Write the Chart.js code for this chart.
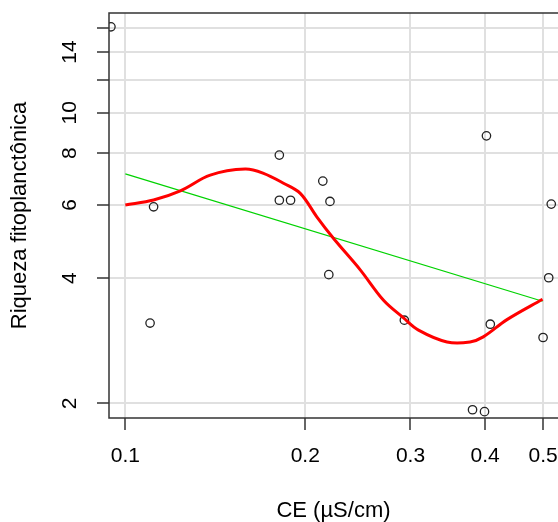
<!DOCTYPE html>
<html>
<head>
<meta charset="utf-8">
<script src="https://cdn.jsdelivr.net/npm/chart.js@4.4.0/dist/chart.umd.min.js"></script>
<style>
  html, body { margin: 0; padding: 0; background: #fff; overflow: hidden; }
  #wrap { width: 558px; height: 522px; }
</style>
</head>
<body>
<div id="wrap"><canvas id="grafico" width="558" height="522"></canvas></div>
<script>
// observed points (CE x riqueza)
var ce_obs = [0.0946, 0.1115, 0.110, 0.181, 0.181, 0.189, 0.214, 0.220, 0.219,
              0.293, 0.402, 0.408, 0.381, 0.399, 0.500, 0.511, 0.516];
var riqueza_obs = [16.1, 5.94, 3.12, 7.91, 6.16, 6.16, 6.85, 6.12, 4.08,
                   3.17, 8.80, 3.10, 1.93, 1.91, 2.88, 4.01, 6.03];

// smooth curve (red)
var curva_x = [0.100, 0.1115, 0.1236, 0.1387, 0.1587, 0.1703, 0.1839, 0.1962, 0.2091,
               0.2229, 0.2472, 0.2704, 0.2921, 0.3094, 0.3453, 0.3774, 0.3971, 0.4351, 0.4990];
var curva_y = [6.00, 6.17, 6.49, 7.08, 7.32, 7.15, 6.77, 6.40, 5.62,
               4.99, 4.19, 3.54, 3.21, 3.00, 2.81, 2.81, 2.89, 3.18, 3.56];

// linear fit (green)
var reta_x = [0.100, 0.499];
var reta_y = [7.13, 3.52];

var x_ticks = [0.1, 0.2, 0.3, 0.4, 0.5];
var x_tick_labels = ['0.1', '0.2', '0.3', '0.4', '0.5'];
var y_ticks = [2, 4, 6, 8, 10, 12, 14, 16];
var y_tick_labels = ['2', '4', '6', '8', '10', '', '14', ''];

function pares(xs, ys) {
  var out = [];
  for (var i = 0; i < xs.length; i++) {
    out.push({x: xs[i], y: ys[i]});
  }
  return out;
}

Chart.defaults.font.family = "'Liberation Sans', Arial, sans-serif";
Chart.defaults.color = '#000';

// box: left, top and bottom (right side falls off the image)
const caixa = {
  id: 'caixa',
  afterDraw(chart) {
    const a = chart.chartArea;
    const ctx = chart.ctx;
    ctx.save();
    ctx.strokeStyle = '#333';
    ctx.lineWidth = 1.5;
    ctx.beginPath();
    ctx.moveTo(chart.width, a.top);
    ctx.lineTo(a.left, a.top);
    ctx.lineTo(a.left, a.bottom);
    ctx.lineTo(chart.width, a.bottom);
    ctx.stroke();
    ctx.restore();
  }
};

function sem_padding(scale) {
  scale.paddingTop = 0;
  scale.paddingBottom = 0;
  scale.paddingLeft = 0;
  scale.paddingRight = 0;
}

const config = {
  type: 'scatter',
  data: {
    datasets: [
      {
        label: 'loess',
        data: pares(curva_x, curva_y),
        showLine: true,
        borderColor: '#ff0000',
        borderWidth: 3,
        pointRadius: 0,
        tension: 0.35,
        order: 0
      },
      {
        label: 'lm',
        data: pares(reta_x, reta_y),
        showLine: true,
        borderColor: 'rgb(0,210,0)',
        borderWidth: 1.2,
        pointRadius: 0,
        order: 1
      },
      {
        label: 'obs',
        data: pares(ce_obs, riqueza_obs),
        showLine: false,
        pointStyle: 'circle',
        pointRadius: 4.2,
        pointBorderWidth: 1.3,
        pointBorderColor: '#222',
        pointBackgroundColor: 'rgba(0,0,0,0)',
        order: 2
      }
    ]
  },
  options: {
    responsive: false,
    animation: false,
    devicePixelRatio: 1,
    layout: { autoPadding: false, padding: { top: 13, left: 0, right: 0, bottom: 0 } },
    plugins: { legend: { display: false }, tooltip: { enabled: false } },
    scales: {
      x: {
        type: 'logarithmic',
        min: 0.0939,
        max: 0.5296,
        afterBuildTicks: function(scale) {
          scale.ticks = x_ticks.map(function(v) { return {value: v}; });
        },
        afterFit: function(scale) { scale.height = 104; sem_padding(scale); },
        ticks: {
          autoSkip: false,
          maxRotation: 0,
          minRotation: 0,
          padding: 14,
          font: { size: 21 },
          callback: function(value) {
            var i = x_ticks.indexOf(value);
            return i >= 0 ? x_tick_labels[i] : '';
          }
        },
        grid: { color: '#e0e0e0', lineWidth: 2, tickColor: '#333', tickWidth: 1.5, tickLength: 12 },
        border: { display: false },
        title: { display: true, text: 'CE (µS/cm)', font: { size: 22 }, padding: { top: 0, bottom: -2 } }
      },
      y: {
        type: 'logarithmic',
        min: 1.844,
        max: 17.38,
        afterBuildTicks: function(scale) {
          scale.ticks = y_ticks.map(function(v) { return {value: v}; });
        },
        afterFit: function(scale) { scale.width = 109; sem_padding(scale); },
        ticks: {
          autoSkip: false,
          minRotation: 90,
          maxRotation: 90,
          crossAlign: 'center',
          padding: 15,
          font: { size: 21 },
          callback: function(value) {
            var i = y_ticks.indexOf(value);
            return i >= 0 ? y_tick_labels[i] : '';
          }
        },
        grid: { color: '#e0e0e0', lineWidth: 2, tickColor: '#333', tickWidth: 1.5, tickLength: 12 },
        border: { display: false },
        title: { display: true, text: 'Riqueza fitoplanctônica', font: { size: 22 }, padding: { top: 7, bottom: 0 } }
      }
    }
  },
  plugins: [caixa]
};

const grafico = new Chart(document.getElementById('grafico'), config);
</script>
</body>
</html>
